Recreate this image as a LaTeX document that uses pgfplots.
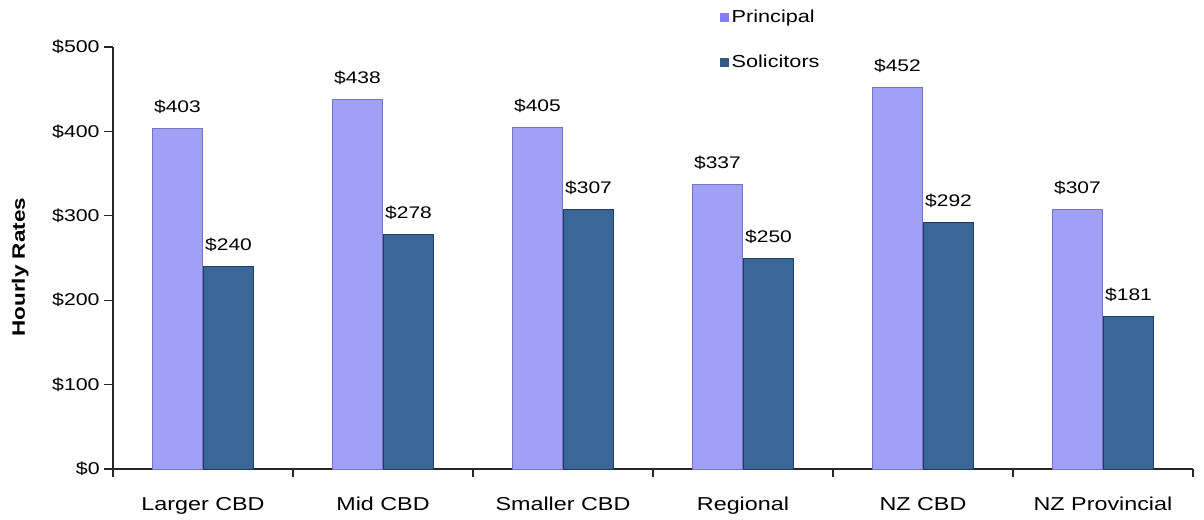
\documentclass[border=0pt]{standalone}
\usepackage{fontspec}
\setmainfont{Liberation Sans}[FakeStretch=1.25]
\usepackage{pgfplots}
\pgfplotsset{compat=1.18}
\definecolor{prinM}{HTML}{A0A0F6}
\definecolor{prinE}{HTML}{7474C4}
\definecolor{solM}{HTML}{3B6698}
\definecolor{solE}{HTML}{1E3A5C}
\definecolor{axgray}{HTML}{262626}
\begin{document}
\begin{tikzpicture}
\useasboundingbox (-84.75pt,-37.5pt) rectangle (818.25pt,351.75pt);
\begin{axis}[
  at={(0,0)}, anchor=south west,
  scale only axis,
  width=810pt, height=316.5pt,
  ybar, bar width=0.28,
  xmin=-0.5, xmax=5.5,
  ymin=0, ymax=500,
  /pgf/number format/assume math mode=true,
  axis x line*=bottom, axis y line*=left,
  axis line style={axgray, line width=1pt, -},
  xtick={0,1,2,3,4,5},
  xticklabels={Larger CBD, Mid CBD, Smaller CBD, Regional, NZ CBD, NZ Provincial},
  major x tick style={draw=none},
  minor xtick={-0.5,0.5,1.5,2.5,3.5,4.5,5.5},
  minor tick length=6pt,
  minor x tick style={axgray, line width=1pt},
  xticklabel style={font=\fontsize{14}{16}\selectfont, yshift=-11pt},
  ytick={0,100,200,300,400,500},
  yticklabels={\$0,\$100,\$200,\$300,\$400,\$500},
  yticklabel style={font=\fontsize{12.8}{14}\selectfont},
  major tick length=6.5pt,
  y tick style={axgray, line width=1pt},
  tick align=outside,
  ylabel={\textbf{Hourly Rates}},
  every axis y label/.style={at={(axis description cs:-0.086,0.478)}, rotate=90, anchor=center, font=\fontsize{13.5}{15}\selectfont},
  point meta=y,
  nodes near coords={\$\pgfmathprintnumber{\pgfplotspointmeta}},
  every node near coord/.append style={font=\fontsize{12.6}{14}\selectfont, anchor=base, yshift=12pt, text=black},
  legend style={draw=none, fill=none, at={(rel axis cs:0.562,1.095)}, anchor=north west,
    font=\fontsize{13}{15}\selectfont, row sep=19pt, inner sep=0pt},
  legend cell align=left,
  clip=false,
]
\addplot[bar shift=-0.142, draw=prinE, line width=0.6pt, fill=prinM,
  legend image code/.code={\fill[prinM!80!blue] (0pt,-3pt) rectangle (6pt,3pt);}]
  coordinates {(0,403) (1,438) (2,405) (3,337) (4,452) (5,307)};
\addplot[bar shift=0.142, draw=solE, line width=0.6pt, fill=solM,
  legend image code/.code={\fill[solM!85!black] (0pt,-3pt) rectangle (6pt,3pt);}]
  coordinates {(0,240) (1,278) (2,307) (3,250) (4,292) (5,181)};
\legend{Principal, Solicitors}
\end{axis}
\end{tikzpicture}
\end{document}
